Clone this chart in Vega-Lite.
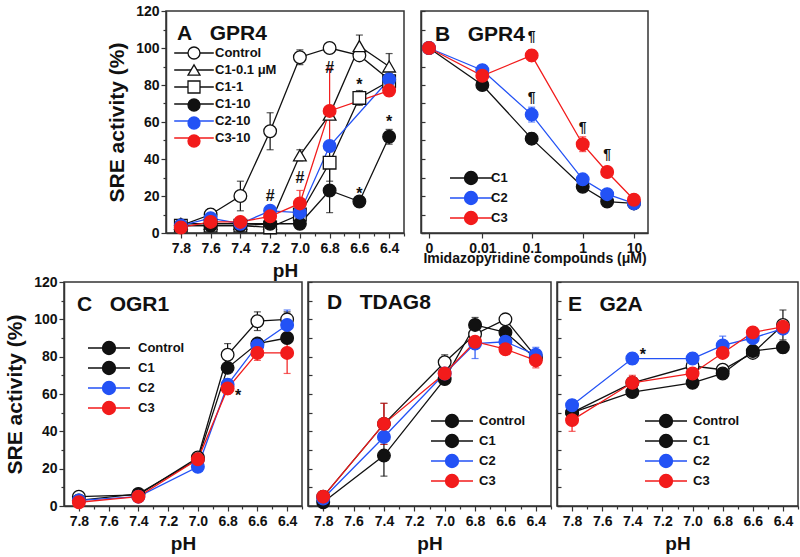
{
  "$schema": "https://vega.github.io/schema/vega-lite/v6.json",
  "padding": {"left": 3, "top": 3, "right": 0, "bottom": 0},
  "background": "white",
  "config": {
    "font": "Liberation Sans",
    "view": {"stroke": "#333", "strokeWidth": 1.5},
    "axis": {"labelFont": "Liberation Sans", "labelFontWeight": "bold", "labelFontSize": 14, "labelColor": "#111", "titleFont": "Liberation Sans", "titleFontWeight": "bold", "titleColor": "#111", "domainColor": "#333", "domainWidth": 1.5, "tickColor": "#333", "tickWidth": 1.2, "grid": false, "labelOverlap": false, "labelFlush": false, "labelBound": false},
    "legend": {"orient": "none", "title": null, "padding": 0, "labelFont": "Liberation Sans", "labelFontSize": 13, "labelFontWeight": "bold", "labelColor": "#111", "symbolSize": 196, "symbolStrokeWidth": 1.3, "symbolOpacity": 1, "symbolFillColor": "#ffffff", "symbolStrokeColor": "#111111"},
    "title": {"font": "Liberation Sans", "fontSize": 21, "fontWeight": "bold", "anchor": "start", "frame": "group", "color": "#111", "offset": 0, "baseline": "middle"}
  },
  "datasets": {
    "A": [
      {"pH": 7.8, "s": "Control", "o": 1, "v": 4}, {"pH": 7.6, "s": "Control", "o": 1, "v": 10, "lo": 7, "hi": 13}, {"pH": 7.4, "s": "Control", "o": 1, "v": 20, "lo": 12, "hi": 28}, {"pH": 7.2, "s": "Control", "o": 1, "v": 55, "lo": 45, "hi": 65}, {"pH": 7.0, "s": "Control", "o": 1, "v": 95, "lo": 91, "hi": 99}, {"pH": 6.8, "s": "Control", "o": 1, "v": 100}, {"pH": 6.6, "s": "Control", "o": 1, "v": 96}, {"pH": 6.4, "s": "Control", "o": 1, "v": 83},
      {"pH": 7.8, "s": "C1-0.1 μM", "o": 2, "v": 5}, {"pH": 7.6, "s": "C1-0.1 μM", "o": 2, "v": 5}, {"pH": 7.4, "s": "C1-0.1 μM", "o": 2, "v": 5}, {"pH": 7.2, "s": "C1-0.1 μM", "o": 2, "v": 5}, {"pH": 7.0, "s": "C1-0.1 μM", "o": 2, "v": 42, "lo": 39, "hi": 45}, {"pH": 6.8, "s": "C1-0.1 μM", "o": 2, "v": 64}, {"pH": 6.6, "s": "C1-0.1 μM", "o": 2, "v": 101, "lo": 95, "hi": 107}, {"pH": 6.4, "s": "C1-0.1 μM", "o": 2, "v": 90, "lo": 84, "hi": 97},
      {"pH": 7.8, "s": "C1-1", "o": 3, "v": 4}, {"pH": 7.6, "s": "C1-1", "o": 3, "v": 4}, {"pH": 7.4, "s": "C1-1", "o": 3, "v": 4}, {"pH": 7.2, "s": "C1-1", "o": 3, "v": 3}, {"pH": 7.0, "s": "C1-1", "o": 3, "v": 10}, {"pH": 6.8, "s": "C1-1", "o": 3, "v": 38, "lo": 28, "hi": 48}, {"pH": 6.6, "s": "C1-1", "o": 3, "v": 73, "lo": 69, "hi": 77}, {"pH": 6.4, "s": "C1-1", "o": 3, "v": 82},
      {"pH": 7.8, "s": "C1-10", "o": 4, "v": 4}, {"pH": 7.6, "s": "C1-10", "o": 4, "v": 4}, {"pH": 7.4, "s": "C1-10", "o": 4, "v": 4}, {"pH": 7.2, "s": "C1-10", "o": 4, "v": 5}, {"pH": 7.0, "s": "C1-10", "o": 4, "v": 5}, {"pH": 6.8, "s": "C1-10", "o": 4, "v": 23, "lo": 11, "hi": 35}, {"pH": 6.6, "s": "C1-10", "o": 4, "v": 17}, {"pH": 6.4, "s": "C1-10", "o": 4, "v": 52, "lo": 48, "hi": 56},
      {"pH": 7.8, "s": "C2-10", "o": 5, "v": 4}, {"pH": 7.6, "s": "C2-10", "o": 5, "v": 8}, {"pH": 7.4, "s": "C2-10", "o": 5, "v": 5}, {"pH": 7.2, "s": "C2-10", "o": 5, "v": 12}, {"pH": 7.0, "s": "C2-10", "o": 5, "v": 11}, {"pH": 6.8, "s": "C2-10", "o": 5, "v": 47}, {"pH": 6.4, "s": "C2-10", "o": 5, "v": 83},
      {"pH": 7.8, "s": "C3-10", "o": 6, "v": 3}, {"pH": 7.6, "s": "C3-10", "o": 6, "v": 6}, {"pH": 7.4, "s": "C3-10", "o": 6, "v": 6}, {"pH": 7.2, "s": "C3-10", "o": 6, "v": 9}, {"pH": 7.0, "s": "C3-10", "o": 6, "v": 16, "lo": 10, "hi": 23}, {"pH": 6.8, "s": "C3-10", "o": 6, "v": 66, "lo": 44, "hi": 89}, {"pH": 6.4, "s": "C3-10", "o": 6, "v": 77, "lo": 74, "hi": 80}
    ],
    "annA": [
      {"pH": 7.2, "v": 20, "t": "#"}, {"pH": 7.0, "v": 30, "t": "#"}, {"pH": 6.8, "v": 89, "t": "#"},
      {"pH": 6.6, "v": 80, "t": "*"}, {"pH": 6.6, "v": 21, "t": "*"}, {"pH": 6.4, "v": 60, "t": "*"}
    ],
    "B": [
      {"c": 0, "s": "C1", "v": 100}, {"c": 0.01, "s": "C1", "v": 80, "lo": 78, "hi": 82}, {"c": 0.1, "s": "C1", "v": 51, "lo": 48, "hi": 54}, {"c": 1, "s": "C1", "v": 25, "lo": 23, "hi": 27}, {"c": 3, "s": "C1", "v": 17}, {"c": 10, "s": "C1", "v": 16},
      {"c": 0, "s": "C2", "v": 100}, {"c": 0.01, "s": "C2", "v": 88, "lo": 85, "hi": 91}, {"c": 0.1, "s": "C2", "v": 64, "lo": 60, "hi": 68}, {"c": 1, "s": "C2", "v": 29}, {"c": 3, "s": "C2", "v": 21}, {"c": 10, "s": "C2", "v": 16},
      {"c": 0, "s": "C3", "v": 100}, {"c": 0.01, "s": "C3", "v": 85}, {"c": 0.1, "s": "C3", "v": 96, "lo": 93, "hi": 99}, {"c": 1, "s": "C3", "v": 48, "lo": 44, "hi": 52}, {"c": 3, "s": "C3", "v": 33}, {"c": 10, "s": "C3", "v": 18}
    ],
    "annB": [
      {"c": 0.1, "v": 106, "t": "¶"}, {"c": 0.1, "v": 73, "t": "¶"}, {"c": 1, "v": 57, "t": "¶"}, {"c": 3, "v": 42, "t": "¶"}
    ],
    "C": [
      {"pH": 7.8, "s": "Control", "v": 5}, {"pH": 7.4, "s": "Control", "v": 6}, {"pH": 7.0, "s": "Control", "v": 26}, {"pH": 6.8, "s": "Control", "v": 81, "lo": 75, "hi": 87}, {"pH": 6.6, "s": "Control", "v": 99, "lo": 94, "hi": 104}, {"pH": 6.4, "s": "Control", "v": 100, "lo": 96, "hi": 104},
      {"pH": 7.8, "s": "C1", "v": 3}, {"pH": 7.4, "s": "C1", "v": 6.5}, {"pH": 7.0, "s": "C1", "v": 25}, {"pH": 6.8, "s": "C1", "v": 74}, {"pH": 6.6, "s": "C1", "v": 87}, {"pH": 6.4, "s": "C1", "v": 90},
      {"pH": 7.8, "s": "C2", "v": 3}, {"pH": 7.4, "s": "C2", "v": 5}, {"pH": 7.0, "s": "C2", "v": 21}, {"pH": 6.8, "s": "C2", "v": 65}, {"pH": 6.6, "s": "C2", "v": 86}, {"pH": 6.4, "s": "C2", "v": 97, "lo": 89, "hi": 105},
      {"pH": 7.8, "s": "C3", "v": 2}, {"pH": 7.4, "s": "C3", "v": 5}, {"pH": 7.0, "s": "C3", "v": 25}, {"pH": 6.8, "s": "C3", "v": 63, "lo": 60, "hi": 66}, {"pH": 6.6, "s": "C3", "v": 82, "lo": 78, "hi": 86}, {"pH": 6.4, "s": "C3", "v": 82, "lo": 71, "hi": 93}
    ],
    "annC": [{"pH": 6.73, "v": 59, "t": "*"}],
    "D": [
      {"pH": 7.8, "s": "Control", "v": 5}, {"pH": 7.4, "s": "Control", "v": 44, "lo": 33, "hi": 55}, {"pH": 7.0, "s": "Control", "v": 77, "lo": 73, "hi": 81}, {"pH": 6.8, "s": "Control", "v": 92}, {"pH": 6.6, "s": "Control", "v": 100}, {"pH": 6.4, "s": "Control", "v": 80},
      {"pH": 7.8, "s": "C1", "v": 2}, {"pH": 7.4, "s": "C1", "v": 27, "lo": 16, "hi": 38}, {"pH": 7.0, "s": "C1", "v": 68}, {"pH": 6.8, "s": "C1", "v": 97, "lo": 93, "hi": 101}, {"pH": 6.6, "s": "C1", "v": 93}, {"pH": 6.4, "s": "C1", "v": 79},
      {"pH": 7.8, "s": "C2", "v": 4}, {"pH": 7.4, "s": "C2", "v": 37}, {"pH": 7.0, "s": "C2", "v": 71}, {"pH": 6.8, "s": "C2", "v": 87, "lo": 79, "hi": 95}, {"pH": 6.6, "s": "C2", "v": 88}, {"pH": 6.4, "s": "C2", "v": 81, "lo": 77, "hi": 85},
      {"pH": 7.8, "s": "C3", "v": 5}, {"pH": 7.4, "s": "C3", "v": 44, "lo": 33, "hi": 55}, {"pH": 7.0, "s": "C3", "v": 71}, {"pH": 6.8, "s": "C3", "v": 88}, {"pH": 6.6, "s": "C3", "v": 84}, {"pH": 6.4, "s": "C3", "v": 78, "lo": 74, "hi": 82}
    ],
    "E": [
      {"pH": 7.8, "s": "Control", "v": 50}, {"pH": 7.4, "s": "Control", "v": 66}, {"pH": 7.0, "s": "Control", "v": 75}, {"pH": 6.8, "s": "Control", "v": 73}, {"pH": 6.6, "s": "Control", "v": 82}, {"pH": 6.4, "s": "Control", "v": 97, "lo": 89, "hi": 105},
      {"pH": 7.8, "s": "C1", "v": 50}, {"pH": 7.4, "s": "C1", "v": 61}, {"pH": 7.0, "s": "C1", "v": 66}, {"pH": 6.8, "s": "C1", "v": 71}, {"pH": 6.6, "s": "C1", "v": 83}, {"pH": 6.4, "s": "C1", "v": 85, "lo": 82, "hi": 88},
      {"pH": 7.8, "s": "C2", "v": 54, "lo": 51, "hi": 57}, {"pH": 7.4, "s": "C2", "v": 79, "lo": 76, "hi": 82}, {"pH": 7.0, "s": "C2", "v": 79, "lo": 76, "hi": 82}, {"pH": 6.8, "s": "C2", "v": 86, "lo": 81, "hi": 91}, {"pH": 6.6, "s": "C2", "v": 90, "lo": 85, "hi": 95}, {"pH": 6.4, "s": "C2", "v": 95},
      {"pH": 7.8, "s": "C3", "v": 46, "lo": 40, "hi": 52}, {"pH": 7.4, "s": "C3", "v": 66, "lo": 62, "hi": 70}, {"pH": 7.0, "s": "C3", "v": 71}, {"pH": 6.8, "s": "C3", "v": 82}, {"pH": 6.6, "s": "C3", "v": 93}, {"pH": 6.4, "s": "C3", "v": 96}
    ],
    "annE": [{"pH": 7.33, "v": 81, "t": "*"}]
  },
  "spacing": -7,
  "align": "none",
  "resolve": {"scale": {"color": "independent", "fill": "independent", "shape": "independent", "stroke": "independent"}, "legend": {"color": "independent", "fill": "independent", "shape": "independent", "stroke": "independent"}},
  "vconcat": [
    {
      "spacing": 13,
      "align": {"row": "all", "column": "none"},
      "resolve": {"scale": {"color": "independent", "fill": "independent", "shape": "independent", "stroke": "independent"}, "legend": {"color": "independent", "fill": "independent", "shape": "independent", "stroke": "independent"}},
      "hconcat": [
        {"width": 28, "height": 10, "view": {"stroke": null}, "data": {"values": [{"k": 1}]}, "mark": {"type": "point", "opacity": 0}, "encoding": {}},
        {
          "width": 238, "height": 222,
          "data": {"name": "A"},
          "title": {"text": "A\u00a0\u00a0\u00a0GPR4", "dx": 11, "dy": 44},
          "encoding": {
            "x": {"field": "pH", "type": "quantitative", "scale": {"domain": [7.9, 6.3], "nice": false, "zero": false},
              "axis": {"title": "pH", "titleFontSize": 19, "titlePadding": 6, "labelPadding": 3, "values": [7.8, 7.7, 7.6, 7.5, 7.4, 7.3, 7.2, 7.1, 7.0, 6.9, 6.8, 6.7, 6.6, 6.5, 6.4, 6.3], "labelExpr": "round(datum.value*10) % 2 === 0 ? format(datum.value, '.1f') : ''", "tickSize": {"condition": {"test": "round(datum.value*10) % 2 === 0", "value": 5}, "value": 3}}},
            "y": {"field": "v", "type": "quantitative", "scale": {"domain": [0, 120], "nice": false},
              "axis": {"title": "SRE activity (%)", "titleFontSize": 21, "titlePadding": 8, "labelPadding": 2, "values": [0, 10, 20, 30, 40, 50, 60, 70, 80, 90, 100, 110, 120], "labelExpr": "datum.value % 20 === 0 ? datum.label : ''", "tickSize": {"condition": {"test": "datum.value % 20 === 0", "value": 5}, "value": 3}}}
          },
          "layer": [
            {"mark": {"type": "line", "strokeWidth": 1.3},
             "encoding": {"color": {"field": "s", "type": "nominal", "scale": {"domain": ["Control", "C1-0.1 μM", "C1-1", "C1-10", "C2-10", "C3-10"], "range": ["#111111", "#111111", "#111111", "#111111", "#2352f5", "#f21b1b"]},
               "legend": {"legendX": 21, "legendY": 35, "labelOffset": 14, "rowPadding": 1, "symbolSize": 144, "symbolType": "M-3.3,0H3.3M0,-0.89L0,-0.89M0,0.89L0,0.89"}}}},
            {"transform": [{"filter": "isValid(datum.lo)"}], "mark": {"type": "errorbar", "ticks": {"size": 7}, "thickness": 1.2},
             "encoding": {"y": {"field": "lo", "type": "quantitative"}, "y2": {"field": "hi"}, "color": {"field": "s", "type": "nominal"}}},
            {"mark": {"type": "point", "filled": false, "size": 160, "strokeWidth": 1.3, "opacity": 1, "fillOpacity": 1},
             "encoding": {
               "stroke": {"field": "s", "type": "nominal", "sort": {"field": "o", "op": "min"}, "scale": {"range": ["#111111", "#111111", "#111111", "#111111", "#2352f5", "#f21b1b"]},
                 "legend": {"legendX": 21, "legendY": 35, "labelOffset": 14, "rowPadding": 0, "symbolSize": 144, "labelOpacity": 0}},
               "fill": {"field": "s", "type": "nominal", "sort": {"field": "o", "op": "min"}, "scale": {"range": ["#ffffff", "#ffffff", "#ffffff", "#111111", "#2352f5", "#f21b1b"]},
                 "legend": {"legendX": 21, "legendY": 35, "labelOffset": 14, "rowPadding": 0, "symbolSize": 144, "labelOpacity": 0}},
               "shape": {"field": "s", "type": "nominal", "sort": {"field": "o", "op": "min"}, "scale": {"range": ["circle", "triangle-up", "square", "circle", "circle", "circle"]},
                 "legend": {"legendX": 21, "legendY": 35, "labelOffset": 14, "rowPadding": 0, "symbolSize": 144, "labelOpacity": 0}}
             }},
            {"data": {"name": "annA"}, "mark": {"type": "text", "fontSize": 16, "fontWeight": "bold", "font": "Liberation Sans", "color": "#111", "baseline": "middle"},
             "encoding": {"text": {"field": "t"}}}
          ]
        },
        {
          "width": 227, "height": 222,
          "data": {"name": "B"},
          "title": {"text": "B\u00a0\u00a0\u00a0GPR4", "dx": 14, "dy": 39},
          "encoding": {
            "x": {"field": "c", "type": "quantitative", "scale": {"type": "symlog", "constant": 0.001, "domain": [-0.00043, 18.8], "nice": false, "zero": false},
              "axis": {"title": "Imidazopyridine compounds (μM)", "titleFontSize": 14, "titlePadding": -4, "labelPadding": 3, "values": [0, 0.01, 0.1, 1, 10], "format": "~g", "tickSize": 5}},
            "y": {"field": "v", "type": "quantitative", "scale": {"domain": [0, 120], "nice": false},
              "axis": {"title": null, "labels": false, "values": [0, 10, 20, 30, 40, 50, 60, 70, 80, 90, 100, 110, 120], "tickSize": -4}}
          },
          "layer": [
            {"mark": {"type": "line", "strokeWidth": 1.3},
             "encoding": {"color": {"field": "s", "type": "nominal", "scale": {"domain": ["C1", "C2", "C3"], "range": ["#111111", "#2352f5", "#f21b1b"]},
               "legend": {"legendX": 42, "legendY": 159, "labelOffset": 12, "rowPadding": 0, "symbolType": "M-3,0H-0.93A0.93,0.93,0,1,1,0.93,0A0.93,0.93,0,1,1,-0.93,0M0.93,0H3"}}}},
            {"transform": [{"filter": "isValid(datum.lo)"}], "mark": {"type": "errorbar", "ticks": {"size": 7}, "thickness": 1.2},
             "encoding": {"y": {"field": "lo", "type": "quantitative"}, "y2": {"field": "hi"}, "color": {"field": "s", "type": "nominal"}}},
            {"mark": {"type": "point", "filled": false, "size": 160, "strokeWidth": 1.3, "opacity": 1, "fillOpacity": 1, "shape": "circle"},
             "encoding": {
               "color": {"field": "s", "type": "nominal"},
               "fill": {"field": "s", "type": "nominal", "scale": {"domain": ["C1", "C2", "C3"], "range": ["#111111", "#2352f5", "#f21b1b"]},
                 "legend": {"legendX": 42, "legendY": 159, "labelOffset": 12, "rowPadding": 0, "symbolType": "M-3,0H-0.93A0.93,0.93,0,1,1,0.93,0A0.93,0.93,0,1,1,-0.93,0M0.93,0H3"}}
             }},
            {"data": {"name": "annB"}, "mark": {"type": "text", "fontSize": 14, "fontWeight": "bold", "font": "Liberation Sans", "color": "#111", "baseline": "middle"},
             "encoding": {"text": {"field": "t"}}}
          ]
        }
      ]
    },
    {
      "spacing": 2,
      "align": {"row": "all", "column": "none"},
      "resolve": {"scale": {"color": "independent", "fill": "independent", "shape": "independent", "stroke": "independent"}, "legend": {"color": "independent", "fill": "independent", "shape": "independent", "stroke": "independent"}},
      "hconcat": [
        {
          "width": 238, "height": 224,
          "data": {"name": "C"},
          "title": {"text": "C\u00a0\u00a0\u00a0OGR1", "dx": 13, "dy": 44},
          "encoding": {
            "x": {"field": "pH", "type": "quantitative", "scale": {"domain": [7.9, 6.3], "nice": false, "zero": false},
              "axis": {"title": "pH", "titleFontSize": 19, "titlePadding": 6, "labelPadding": 3, "values": [7.8, 7.7, 7.6, 7.5, 7.4, 7.3, 7.2, 7.1, 7.0, 6.9, 6.8, 6.7, 6.6, 6.5, 6.4, 6.3], "labelExpr": "round(datum.value*10) % 2 === 0 ? format(datum.value, '.1f') : ''", "tickSize": {"condition": {"test": "round(datum.value*10) % 2 === 0", "value": 5}, "value": 3}}},
            "y": {"field": "v", "type": "quantitative", "scale": {"domain": [0, 120], "nice": false},
              "axis": {"title": "SRE activity (%)", "titleFontSize": 21, "titlePadding": 8, "labelPadding": 2, "values": [0, 10, 20, 30, 40, 50, 60, 70, 80, 90, 100, 110, 120], "labelExpr": "datum.value % 20 === 0 ? datum.label : ''", "tickSize": {"condition": {"test": "datum.value % 20 === 0", "value": 5}, "value": 3}}}
          },
          "layer": [
            {"mark": {"type": "line", "strokeWidth": 1.3},
             "encoding": {"color": {"field": "s", "type": "nominal", "scale": {"domain": ["Control", "C1", "C2", "C3"], "range": ["#111111", "#111111", "#2352f5", "#f21b1b"]},
               "legend": {"legendX": 37, "legendY": 58, "labelOffset": 21, "rowPadding": 0, "symbolType": "M-3,0H-0.93A0.93,0.93,0,1,1,0.93,0A0.93,0.93,0,1,1,-0.93,0M0.93,0H3"}}}},
            {"transform": [{"filter": "isValid(datum.lo)"}], "mark": {"type": "errorbar", "ticks": {"size": 7}, "thickness": 1.2},
             "encoding": {"y": {"field": "lo", "type": "quantitative"}, "y2": {"field": "hi"}, "color": {"field": "s", "type": "nominal"}}},
            {"mark": {"type": "point", "filled": false, "size": 160, "strokeWidth": 1.3, "opacity": 1, "fillOpacity": 1, "shape": "circle"},
             "encoding": {
               "color": {"field": "s", "type": "nominal"},
               "fill": {"field": "s", "type": "nominal", "scale": {"domain": ["Control", "C1", "C2", "C3"], "range": ["#ffffff", "#111111", "#2352f5", "#f21b1b"]},
                 "legend": {"legendX": 37, "legendY": 58, "labelOffset": 21, "rowPadding": 0, "symbolType": "M-3,0H-0.93A0.93,0.93,0,1,1,0.93,0A0.93,0.93,0,1,1,-0.93,0M0.93,0H3"}}
             }},
            {"data": {"name": "annC"}, "mark": {"type": "text", "fontSize": 16, "fontWeight": "bold", "font": "Liberation Sans", "color": "#111", "baseline": "middle"},
             "encoding": {"text": {"field": "t"}}}
          ]
        },
        {
          "width": 243, "height": 224,
          "data": {"name": "D"},
          "title": {"text": "D\u00a0\u00a0\u00a0TDAG8", "dx": 19, "dy": 36},
          "encoding": {
            "x": {"field": "pH", "type": "quantitative", "scale": {"domain": [7.9, 6.3], "nice": false, "zero": false},
              "axis": {"title": "pH", "titleFontSize": 19, "titlePadding": 6, "labelPadding": 3, "values": [7.8, 7.7, 7.6, 7.5, 7.4, 7.3, 7.2, 7.1, 7.0, 6.9, 6.8, 6.7, 6.6, 6.5, 6.4, 6.3], "labelExpr": "round(datum.value*10) % 2 === 0 ? format(datum.value, '.1f') : ''", "tickSize": {"condition": {"test": "round(datum.value*10) % 2 === 0", "value": 5}, "value": 3}}},
            "y": {"field": "v", "type": "quantitative", "scale": {"domain": [0, 120], "nice": false},
              "axis": {"title": null, "labels": false, "values": [0, 10, 20, 30, 40, 50, 60, 70, 80, 90, 100, 110, 120], "tickSize": -4}}
          },
          "layer": [
            {"mark": {"type": "line", "strokeWidth": 1.3},
             "encoding": {"color": {"field": "s", "type": "nominal", "scale": {"domain": ["Control", "C1", "C2", "C3"], "range": ["#111111", "#111111", "#2352f5", "#f21b1b"]},
               "legend": {"legendX": 136, "legendY": 131, "labelOffset": 19, "rowPadding": 0, "symbolType": "M-3,0H-0.93A0.93,0.93,0,1,1,0.93,0A0.93,0.93,0,1,1,-0.93,0M0.93,0H3"}}}},
            {"transform": [{"filter": "isValid(datum.lo)"}], "mark": {"type": "errorbar", "ticks": {"size": 7}, "thickness": 1.2},
             "encoding": {"y": {"field": "lo", "type": "quantitative"}, "y2": {"field": "hi"}, "color": {"field": "s", "type": "nominal"}}},
            {"mark": {"type": "point", "filled": false, "size": 160, "strokeWidth": 1.3, "opacity": 1, "fillOpacity": 1, "shape": "circle"},
             "encoding": {
               "color": {"field": "s", "type": "nominal"},
               "fill": {"field": "s", "type": "nominal", "scale": {"domain": ["Control", "C1", "C2", "C3"], "range": ["#ffffff", "#111111", "#2352f5", "#f21b1b"]},
                 "legend": {"legendX": 136, "legendY": 131, "labelOffset": 19, "rowPadding": 0, "symbolType": "M-3,0H-0.93A0.93,0.93,0,1,1,0.93,0A0.93,0.93,0,1,1,-0.93,0M0.93,0H3"}}
             }}
          ]
        },
        {
          "width": 241, "height": 224,
          "data": {"name": "E"},
          "title": {"text": "E\u00a0\u00a0\u00a0G2A", "dx": 11, "dy": 38},
          "encoding": {
            "x": {"field": "pH", "type": "quantitative", "scale": {"domain": [7.9, 6.3], "nice": false, "zero": false},
              "axis": {"title": "pH", "titleFontSize": 19, "titlePadding": 6, "labelPadding": 3, "values": [7.8, 7.7, 7.6, 7.5, 7.4, 7.3, 7.2, 7.1, 7.0, 6.9, 6.8, 6.7, 6.6, 6.5, 6.4, 6.3], "labelExpr": "round(datum.value*10) % 2 === 0 ? format(datum.value, '.1f') : ''", "tickSize": {"condition": {"test": "round(datum.value*10) % 2 === 0", "value": 5}, "value": 3}}},
            "y": {"field": "v", "type": "quantitative", "scale": {"domain": [0, 120], "nice": false},
              "axis": {"title": null, "labels": false, "values": [0, 10, 20, 30, 40, 50, 60, 70, 80, 90, 100, 110, 120], "tickSize": -4}}
          },
          "layer": [
            {"mark": {"type": "line", "strokeWidth": 1.3},
             "encoding": {"color": {"field": "s", "type": "nominal", "scale": {"domain": ["Control", "C1", "C2", "C3"], "range": ["#111111", "#111111", "#2352f5", "#f21b1b"]},
               "legend": {"legendX": 101, "legendY": 131, "labelOffset": 19, "rowPadding": 0, "symbolType": "M-3,0H-0.93A0.93,0.93,0,1,1,0.93,0A0.93,0.93,0,1,1,-0.93,0M0.93,0H3"}}}},
            {"transform": [{"filter": "isValid(datum.lo)"}], "mark": {"type": "errorbar", "ticks": {"size": 7}, "thickness": 1.2},
             "encoding": {"y": {"field": "lo", "type": "quantitative"}, "y2": {"field": "hi"}, "color": {"field": "s", "type": "nominal"}}},
            {"mark": {"type": "point", "filled": false, "size": 160, "strokeWidth": 1.3, "opacity": 1, "fillOpacity": 1, "shape": "circle"},
             "encoding": {
               "color": {"field": "s", "type": "nominal"},
               "fill": {"field": "s", "type": "nominal", "scale": {"domain": ["Control", "C1", "C2", "C3"], "range": ["#ffffff", "#111111", "#2352f5", "#f21b1b"]},
                 "legend": {"legendX": 101, "legendY": 131, "labelOffset": 19, "rowPadding": 0, "symbolType": "M-3,0H-0.93A0.93,0.93,0,1,1,0.93,0A0.93,0.93,0,1,1,-0.93,0M0.93,0H3"}}
             }},
            {"data": {"name": "annE"}, "mark": {"type": "text", "fontSize": 16, "fontWeight": "bold", "font": "Liberation Sans", "color": "#111", "baseline": "middle"},
             "encoding": {"text": {"field": "t"}}}
          ]
        }
      ]
    }
  ]
}
